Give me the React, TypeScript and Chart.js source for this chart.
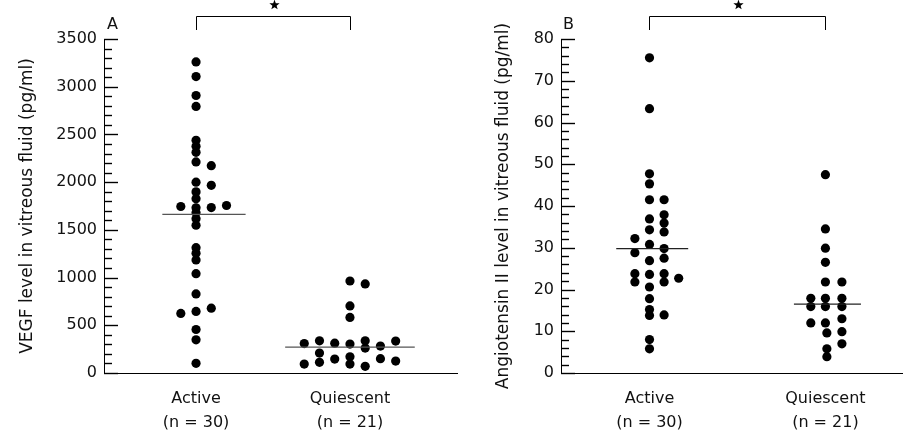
import React, { useEffect, useRef } from "react";
import { Chart, registerables } from "chart.js";

Chart.register(...registerables);

// ---------- data ----------
const categories = ["Active", "Quiescent"];
const groupSizes = ["(n = 30)", "(n = 21)"];

// Panel A: VEGF (pg/ml)
const vegfTicks = [0, 500, 1000, 1500, 2000, 2500, 3000, 3500];
const vegfActive = [
  3260, 3106, 2908, 2793, 2438, 2375, 2312, 2212, 2000, 1898, 1825, 1731, 1679, 1616, 1549,
  1313, 1254, 1184, 1041, 829, 645, 456, 348, 101,
  2173, 1967, 1734, 679,
  1755,
  1745, 624,
];
const vegfActiveCol = [
  0, 0, 0, 0, 0, 0, 0, 0, 0, 0, 0, 0, 0, 0, 0, 0, 0, 0, 0, 0, 0, 0, 0, 0,
  1, 1, 1, 1,
  2,
  -1, -1,
];
const vegfQuiescent = [308, 94, 337, 209, 112, 313, 146, 964, 703, 582, 303, 170, 94, 933, 337, 261, 70, 282, 150, 335, 125];
const vegfQuiescentCol = [-3, -3, -2, -2, -2, -1, -1, 0, 0, 0, 0, 0, 0, 1, 1, 1, 1, 2, 2, 3, 3];
const vegfCentre = [1662, 272];

// Panel B: Angiotensin II (pg/ml)
const angTicks = [0, 10, 20, 30, 40, 50, 60, 70, 80];
const angActive = [
  75.5, 63.3, 47.7, 45.3, 41.5, 36.9, 34.3, 30.8, 26.9, 23.6, 20.6, 17.8, 15.2, 13.8, 8.0, 5.8,
  41.5, 37.9, 35.9, 33.8, 29.8, 27.5, 23.8, 21.8, 13.9,
  32.2, 28.8, 23.8, 21.8,
  22.7,
];
const angActiveCol = [
  0, 0, 0, 0, 0, 0, 0, 0, 0, 0, 0, 0, 0, 0, 0, 0,
  1, 1, 1, 1, 1, 1, 1, 1, 1,
  -1, -1, -1, -1,
  2,
];
const angQuiescent = [47.5, 34.5, 29.9, 26.5, 21.8, 17.9, 15.9, 12.0, 9.6, 5.8, 3.9, 17.9, 15.9, 12.0, 21.8, 17.9, 15.9, 13.0, 9.9, 7.0];
const angQuiescentCol = [0, 0, 0, 0, 0, 0, 0, 0, 0.1, 0.1, 0.1, -1, -1, -1, 1.13, 1.13, 1.13, 1.13, 1.13, 1.13];
const angCentre = [29.8, 16.5];

// ---------- styling ----------
const FONT = "'DejaVu Sans', 'Noto Sans', sans-serif";
const INK = "#111";

type Panel = {
  left: number;
  width: number;
  letter: string;
  title: string;
  yTicks: number[];
  minorStep: number;
  xMin: number;
  xMax: number;
  colStep: number;
  active: number[];
  activeCol: number[];
  quiescent: number[];
  quiescentCol: number[];
  centre: number[];
  spans: number[][];
  yAxisWidth: number;
  titlePad: number;
  padRight: number;
  letterDx: number;
  lineColor: string;
};

const panels: Panel[] = [
  {
    left: 0,
    width: 462,
    letter: "A",
    title: "VEGF level in vitreous fluid (pg/ml)",
    yTicks: vegfTicks,
    minorStep: 100,
    xMin: -0.598,
    xMax: 1.698,
    colStep: 0.099,
    active: vegfActive,
    activeCol: vegfActiveCol,
    quiescent: vegfQuiescent,
    quiescentCol: vegfQuiescentCol,
    centre: vegfCentre,
    spans: [[-0.219, 0.322], [-0.421, 0.421]],
    yAxisWidth: 104,
    titlePad: 17,
    padRight: 1,
    letterDx: 3,
    lineColor: "#555",
  },
  {
    left: 462,
    width: 445,
    letter: "B",
    title: "Angiotensin II level in vitreous fluid (pg/ml)",
    yTicks: angTicks,
    minorStep: 2,
    xMin: -0.503,
    xMax: 1.4376,
    colStep: 0.083,
    active: angActive,
    activeCol: angActiveCol,
    quiescent: angQuiescent,
    quiescentCol: angQuiescentCol,
    centre: angCentre,
    spans: [[-0.189, 0.22], [-0.179, 0.202]],
    yAxisWidth: 99,
    titlePad: 31,
    padRight: 0,
    letterDx: 2,
    lineColor: "#222",
  },
];

function makeDecor(p: Panel) {
  return {
    id: "decor" + p.letter,
    afterDraw(chart: any) {
      const ctx: CanvasRenderingContext2D = chart.ctx;
      const xs = chart.scales.x;
      const ys = chart.scales.y;
      const area = chart.chartArea;
      const ax = Math.round(area.left);
      ctx.save();
      // inside ruler ticks on the y axis
      const lo = p.yTicks[0];
      const hi = p.yTicks[p.yTicks.length - 1];
      const majorStep = p.yTicks[1] - p.yTicks[0];
      const n = Math.round((hi - lo) / p.minorStep);
      ctx.strokeStyle = "#000";
      ctx.lineWidth = 1.4;
      ctx.lineCap = "butt";
      for (let i = 0; i <= n; i++) {
        const v = lo + i * p.minorStep;
        const q = (v - lo) / majorStep;
        const isMajor = Math.abs(q - Math.round(q)) < 1e-6;
        const py = Math.round(ys.getPixelForValue(v)) + 0.5;
        ctx.beginPath();
        ctx.moveTo(ax, py);
        ctx.lineTo(ax + (isMajor ? 14 : 8), py);
        ctx.stroke();
      }
      // significance bracket
      ctx.lineWidth = 1;
      const x0 = Math.round(xs.getPixelForValue(0)) + 0.5;
      const x1 = Math.round(xs.getPixelForValue(1)) + 0.5;
      ctx.beginPath();
      ctx.moveTo(x0, 30);
      ctx.lineTo(x0, 16.5);
      ctx.lineTo(x1, 16.5);
      ctx.lineTo(x1, 30);
      ctx.stroke();
      // star
      const cx = (x0 + x1) / 2 + 1;
      const cy = 5;
      const R = 5.4;
      const r = 2.2;
      ctx.fillStyle = "#000";
      ctx.beginPath();
      for (let k = 0; k < 10; k++) {
        const ang = -Math.PI / 2 + (k * Math.PI) / 5;
        const rr = k % 2 === 0 ? R : r;
        const px = cx + rr * Math.cos(ang);
        const py = cy + rr * Math.sin(ang);
        if (k === 0) ctx.moveTo(px, py);
        else ctx.lineTo(px, py);
      }
      ctx.closePath();
      ctx.fill();
      // panel letter
      ctx.fillStyle = INK;
      ctx.font = `16px ${FONT}`;
      ctx.textAlign = "left";
      ctx.textBaseline = "alphabetic";
      ctx.fillText(p.letter, area.left + p.letterDx, 29);
      ctx.restore();
    },
  };
}

function PanelChart({ p }: { p: Panel }) {
  const ref = useRef<HTMLCanvasElement | null>(null);
  useEffect(() => {
    if (!ref.current) return;
    const activePts = p.active.map((v, i) => ({ x: 0 + p.activeCol[i] * p.colStep, y: v }));
    const quiPts = p.quiescent.map((v, i) => ({ x: 1 + p.quiescentCol[i] * p.colStep, y: v }));
    const lineSets = p.centre.map((m, g) => ({
      type: "line" as const,
      data: [
        { x: g + p.spans[g][0], y: m },
        { x: g + p.spans[g][1], y: m },
      ],
      borderColor: p.lineColor,
      borderWidth: 1.3,
      pointRadius: 0,
      showLine: true,
      fill: false,
      order: 0,
    }));
    const chart = new Chart(ref.current, {
      type: "scatter",
      data: {
        datasets: [
          {
            data: activePts,
            backgroundColor: "#000",
            borderWidth: 0,
            pointRadius: 4.6,
            order: 1,
          },
          {
            data: quiPts,
            backgroundColor: "#000",
            borderWidth: 0,
            pointRadius: 4.6,
            order: 1,
          },
          ...lineSets,
        ] as any,
      },
      options: {
        responsive: false,
        animation: false,
        layout: { padding: { top: 39, right: p.padRight, left: 0, bottom: 0 } },
        plugins: {
          legend: { display: false },
          tooltip: { enabled: false },
        },
        scales: {
          x: {
            type: "linear",
            min: p.xMin,
            max: p.xMax,
            afterBuildTicks: (s: any) => {
              s.ticks = categories.map((_, i) => ({ value: i }));
            },
            afterFit: (s: any) => {
              s.height = 60;
            },
            grid: { display: false, drawTicks: false },
            border: { display: true, color: "#000", width: 1 },
            ticks: {
              autoSkip: false,
              maxRotation: 0,
              padding: 14,
              color: INK,
              font: { family: FONT, size: 16, lineHeight: 1.5 },
              callback: (_v: any, i: number) => [categories[i], groupSizes[i]],
            },
          },
          y: {
            type: "linear",
            min: p.yTicks[0],
            max: p.yTicks[p.yTicks.length - 1],
            afterBuildTicks: (s: any) => {
              s.ticks = p.yTicks.map((v) => ({ value: v }));
            },
            afterFit: (s: any) => {
              s.width = p.yAxisWidth;
            },
            grid: { display: false, drawTicks: false },
            border: { display: true, color: "#000", width: 1 },
            ticks: {
              autoSkip: false,
              padding: 7,
              color: INK,
              font: { family: FONT, size: 16 },
              callback: (v: any) => String(v),
            },
            title: {
              display: true,
              text: p.title,
              color: INK,
              font: { family: FONT, size: 17 },
              padding: { top: p.titlePad, bottom: 0 },
            },
          },
        },
      },
      plugins: [makeDecor(p)],
    });
    return () => chart.destroy();
  }, [p]);
  return (
    <canvas
      ref={ref}
      width={p.width}
      height={433}
      style={{ position: "absolute", left: p.left, top: 0, width: p.width, height: 433 }}
    />
  );
}

export default function App() {
  return (
    <div style={{ position: "absolute", left: 0, top: 0, width: 907, height: 433, background: "#fff" }}>
      {panels.map((p) => (
        <PanelChart key={p.letter} p={p} />
      ))}
    </div>
  );
}
